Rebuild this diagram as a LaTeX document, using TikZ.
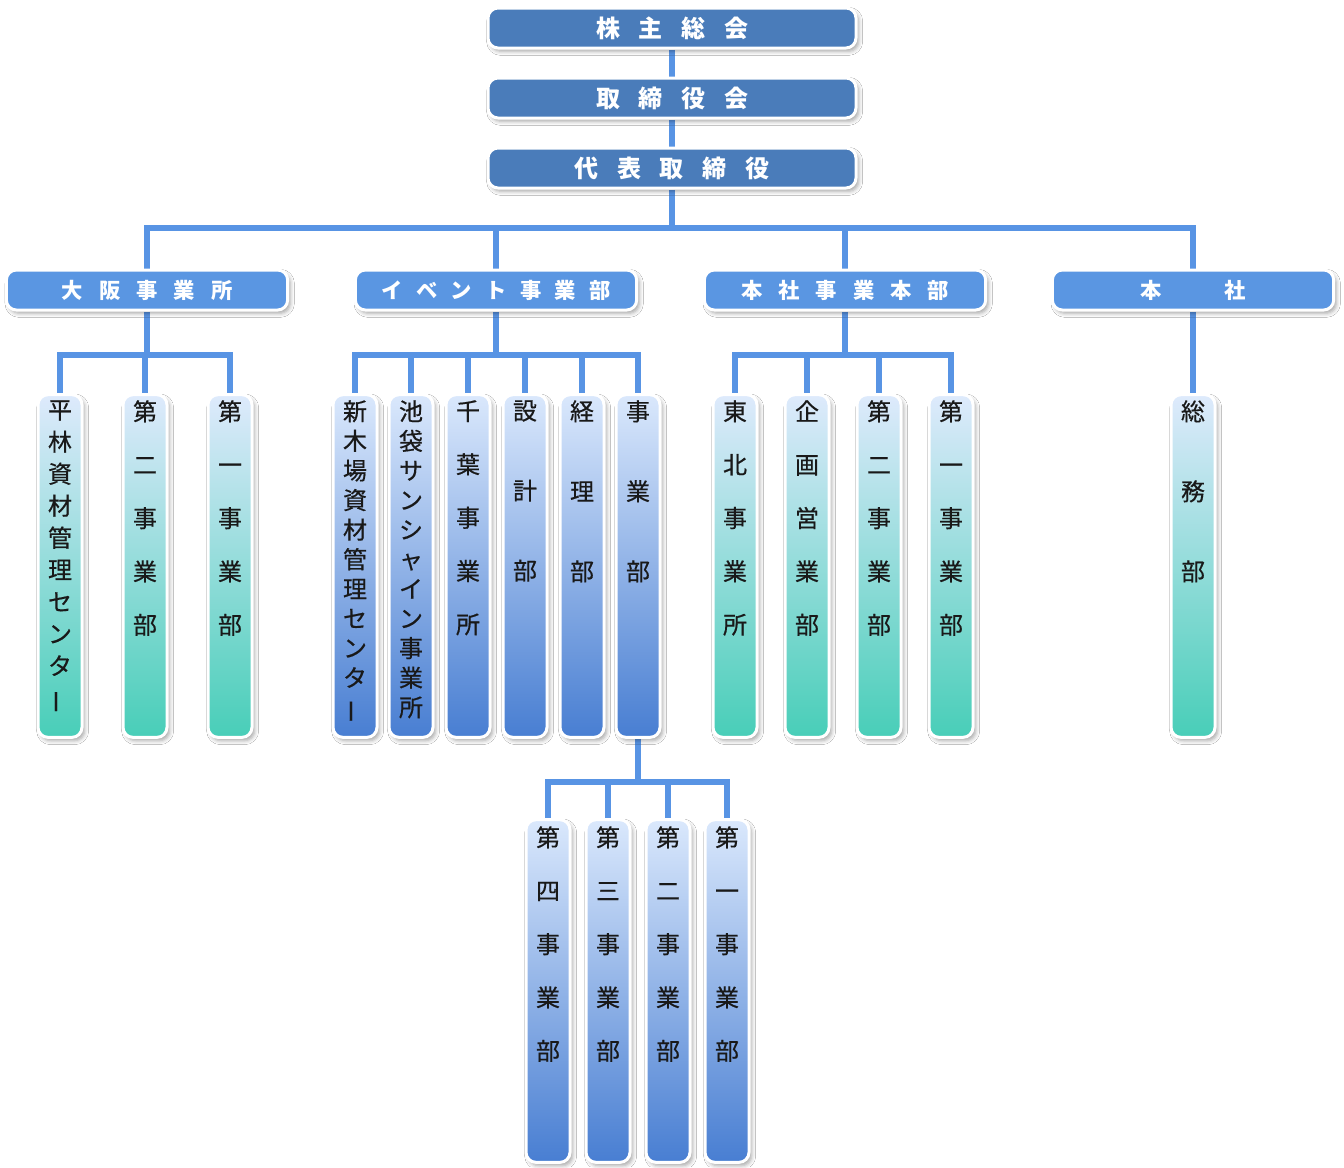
\documentclass[tikz,border=0pt]{standalone}
\usepackage{fontspec}
\setmainfont{Noto Sans CJK JP}
\newfontfamily\colfont[FakeBold=0.5]{Noto Sans CJK JP}
\usepackage{graphicx}
\usetikzlibrary{shadows,shadows.blur,backgrounds}
\definecolor{topblue}{RGB}{74,124,186}
\definecolor{midblue}{RGB}{90,150,226}
\definecolor{connc}{RGB}{88,148,228}
\definecolor{textdark}{RGB}{25,25,25}
\definecolor{tealtop}{RGB}{222,234,252}
\definecolor{tealmid}{RGB}{165,226,232}
\definecolor{tealbot}{RGB}{72,206,184}
\definecolor{bluetop}{RGB}{218,232,252}
\definecolor{bluemid}{RGB}{150,186,236}
\definecolor{bluebot}{RGB}{72,126,210}
\newcommand\vbar{\rotatebox[origin=c]{90}{ー}}
\tikzset{
  boxshadow/.style={blur shadow={shadow xshift=2pt, shadow yshift=-2.5pt, shadow blur radius=3pt, shadow opacity=35}},
  topbox/.style={rounded corners=7.5pt, fill=topblue, draw=white, line width=2.25pt,
    minimum width=276pt, minimum height=30pt, inner sep=0pt, text=white,
    font=\fontsize{18pt}{20pt}\selectfont\bfseries, boxshadow},
  secbox/.style={rounded corners=7.5pt, fill=midblue, draw=white, line width=2.25pt,
    minimum width=211pt, minimum height=30pt, inner sep=0pt, text=white,
    font=\fontsize{16pt}{18pt}\selectfont\bfseries, boxshadow},
  colbox/.style={rounded corners=7.5pt, draw=white, line width=2.25pt,
    minimum width=33pt, minimum height=257pt, inner sep=0pt, boxshadow},
  tealcol/.style={colbox, top color=tealtop, middle color=tealmid, bottom color=tealbot},
  bluecol/.style={colbox, top color=bluetop, middle color=bluemid, bottom color=bluebot},
  coltext/.style={anchor=north, inner sep=0pt, align=center, text=textdark},
  sp40/.style={font=\colfont\fontsize{18pt}{40pt}\selectfont},
  sp60/.style={font=\colfont\fontsize{18pt}{60pt}\selectfont},
  sp24/.style={font=\colfont\fontsize{18pt}{24pt}\selectfont},
  sp22/.style={font=\colfont\fontsize{18pt}{22.2pt}\selectfont},
  conn/.style={draw=connc, line width=4.5pt},
}
\begin{document}
\begin{tikzpicture}[x=0.75pt, y=-0.75pt]
\useasboundingbox (0,0) rectangle (1344,1167);
% top level
\node[topbox] (t1) at (672,28) {株\hspace{14pt}主\hspace{14pt}総\hspace{14pt}会};
\node[topbox] (t2) at (672,98) {取\hspace{14pt}締\hspace{14pt}役\hspace{14pt}会};
\node[topbox] (t3) at (672,168) {代\hspace{14pt}表\hspace{14pt}取\hspace{14pt}締\hspace{14pt}役};
% second level
\node[secbox] (l1) at (147,290) {大\hspace{12pt}阪\hspace{12pt}事\hspace{12pt}業\hspace{12pt}所};
\node[secbox] (l2) at (496,290) {イ\hspace{10pt}ベ\hspace{10pt}ン\hspace{10pt}ト\hspace{10pt}事\hspace{10pt}業\hspace{10pt}部};
\node[secbox] (l3) at (845,290) {本\hspace{12pt}社\hspace{12pt}事\hspace{12pt}業\hspace{12pt}本\hspace{12pt}部};
\node[secbox] (l4) at (1193,290) {本\hspace{47pt}社};
% Osaka columns
\node[tealcol] (o1) at (60,566) {};
\node[tealcol] (o2) at (145,566) {};
\node[tealcol] (o3) at (230,566) {};
\node[coltext, sp24] (o1t) at (60,400) {平\\林\\資\\材\\管\\理\\セ\\ン\\タ\\\vbar};
\node[coltext, sp40] (o2t) at (145,400) {第\\二\\事\\業\\部};
\node[coltext, sp40] (o3t) at (230,400) {第\\一\\事\\業\\部};
% Event columns
\node[bluecol] (e1) at (355,566) {};
\node[bluecol] (e2) at (411,566) {};
\node[bluecol] (e3) at (468,566) {};
\node[bluecol] (e4) at (525,566) {};
\node[bluecol] (e5) at (582,566) {};
\node[bluecol] (e6) at (638,566) {};
\node[coltext, sp22] (e1t) at (355,400) {新\\木\\場\\資\\材\\管\\理\\セ\\ン\\タ\\\vbar};
\node[coltext, sp22] (e2t) at (411,400) {池\\袋\\サ\\ン\\シ\\ャ\\イ\\ン\\事\\業\\所};
\node[coltext, sp40] (e3t) at (468,400) {千\\葉\\事\\業\\所};
\node[coltext, sp60] (e4t) at (525,400) {設\\計\\部};
\node[coltext, sp60] (e5t) at (582,400) {経\\理\\部};
\node[coltext, sp60] (e6t) at (638,400) {事\\業\\部};
% Honbu columns
\node[tealcol] (h1) at (735,566) {};
\node[tealcol] (h2) at (807,566) {};
\node[tealcol] (h3) at (879,566) {};
\node[tealcol] (h4) at (951,566) {};
\node[coltext, sp40] (h1t) at (735,400) {東\\北\\事\\業\\所};
\node[coltext, sp40] (h2t) at (807,400) {企\\画\\営\\業\\部};
\node[coltext, sp40] (h3t) at (879,400) {第\\二\\事\\業\\部};
\node[coltext, sp40] (h4t) at (951,400) {第\\一\\事\\業\\部};
% Honsha column
\node[tealcol] (s1) at (1193,566) {};
\node[coltext, sp60] (s1t) at (1193,400) {総\\務\\部};
% bottom columns
\node[bluecol] (b1) at (548,991) {};
\node[bluecol] (b2) at (608,991) {};
\node[bluecol] (b3) at (668,991) {};
\node[bluecol] (b4) at (727,991) {};
\node[coltext, sp40] (b1t) at (548,826) {第\\四\\事\\業\\部};
\node[coltext, sp40] (b2t) at (608,826) {第\\三\\事\\業\\部};
\node[coltext, sp40] (b3t) at (668,826) {第\\二\\事\\業\\部};
\node[coltext, sp40] (b4t) at (727,826) {第\\一\\事\\業\\部};
% bus points
\coordinate (bus1) at (672,228);
\coordinate (ob) at (147,355);
\coordinate (eb) at (496,355);
\coordinate (hb) at (845,355);
\coordinate (bb) at (638,782);
\begin{pgfonlayer}{background}
\fill[white] (0,0) rectangle (1344,1167);
\draw[conn] (t1) -- (t2) -- (t3) -- (bus1);
\draw[conn] (l1.north) |- (bus1) -| (l4.north);
\draw[conn] (l2.north) -- (l2.north |- bus1);
\draw[conn] (l3.north) -- (l3.north |- bus1);
\draw[conn] (l1) -- (ob);
\draw[conn] (o1.north) |- (ob) -| (o3.north);
\draw[conn] (o2.north) -- (o2.north |- ob);
\draw[conn] (l2) -- (eb);
\draw[conn] (e1.north) |- (eb) -| (e6.north);
\draw[conn] (e2.north) -- (e2.north |- eb);
\draw[conn] (e3.north) -- (e3.north |- eb);
\draw[conn] (e4.north) -- (e4.north |- eb);
\draw[conn] (e5.north) -- (e5.north |- eb);
\draw[conn] (l3) -- (hb);
\draw[conn] (h1.north) |- (hb) -| (h4.north);
\draw[conn] (h2.north) -- (h2.north |- hb);
\draw[conn] (h3.north) -- (h3.north |- hb);
\draw[conn] (l4) -- (s1);
\draw[conn] (e6) -- (bb);
\draw[conn] (b1.north) |- (bb) -| (b4.north);
\draw[conn] (b2.north) -- (b2.north |- bb);
\draw[conn] (b3.north) -- (b3.north |- bb);
\end{pgfonlayer}
\end{tikzpicture}
\end{document}
